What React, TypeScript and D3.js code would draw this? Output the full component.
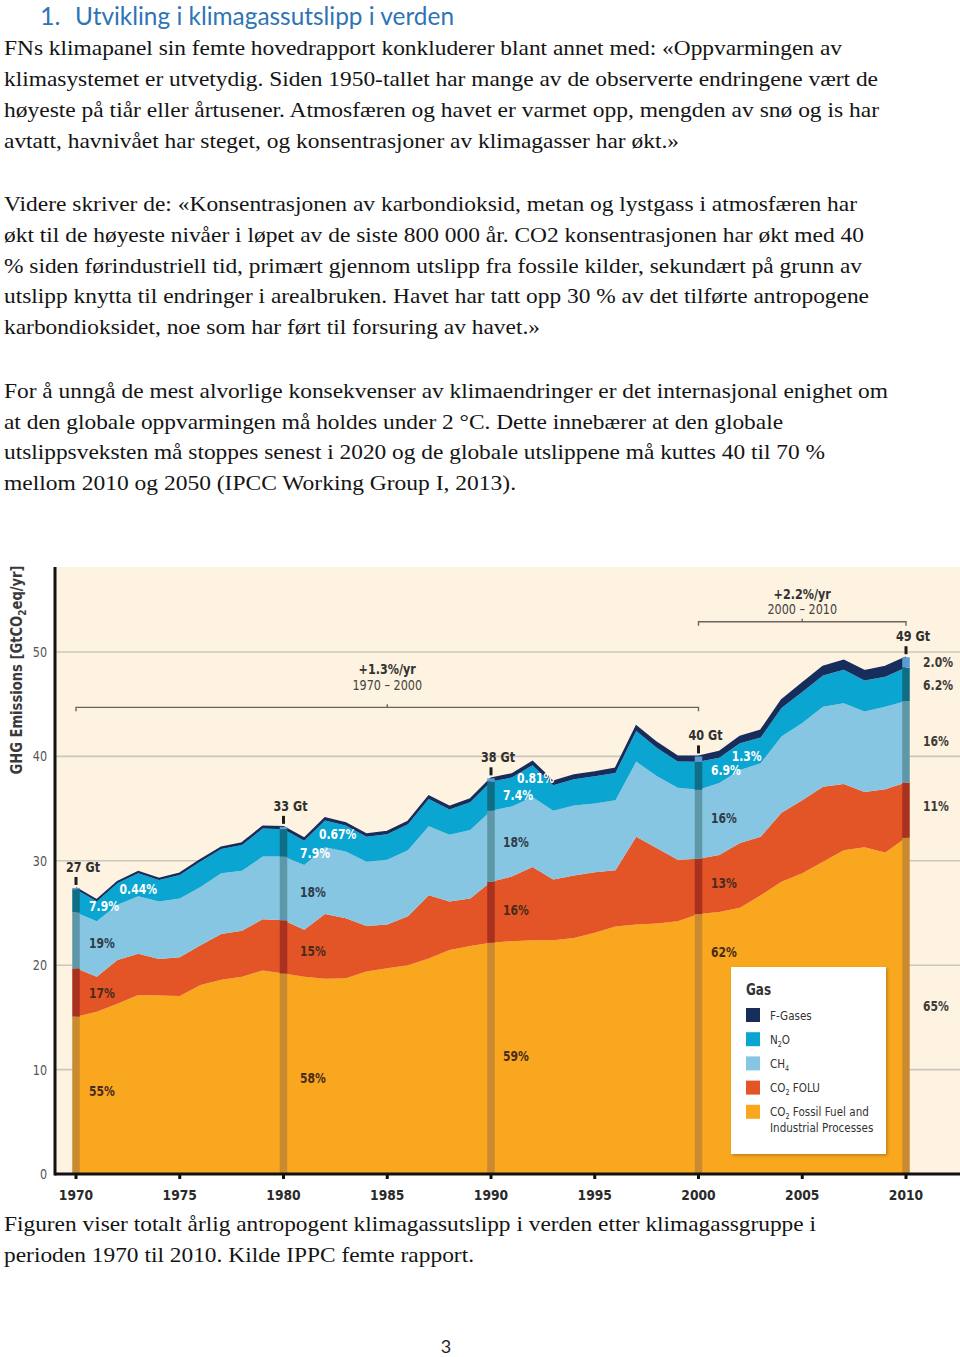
import React from "react";
import * as d3 from "d3";

// ---------------- DATA ----------------
const years = [
  1970, 1971, 1972, 1973, 1974, 1975, 1976, 1977, 1978, 1979,
  1980, 1981, 1982, 1983, 1984, 1985, 1986, 1987, 1988, 1989,
  1990, 1991, 1992, 1993, 1994, 1995, 1996, 1997, 1998, 1999,
  2000, 2001, 2002, 2003, 2004, 2005, 2006, 2007, 2008, 2009, 2010,
];
// GtCO2eq/yr per gas
const co2Fossil = [
  15.07, 15.55, 16.3, 17.15, 17.1, 17.05, 18.1, 18.6, 18.9, 19.5,
  19.2, 18.9, 18.7, 18.75, 19.4, 19.7, 20.0, 20.65, 21.45, 21.85,
  22.15, 22.3, 22.4, 22.4, 22.6, 23.1, 23.7, 23.9, 24.0, 24.2,
  24.9, 25.1, 25.5, 26.7, 28.0, 28.8, 29.9, 31.0, 31.3, 30.8, 32.2,
];
const co2Folu = [
  4.63, 3.35, 4.2, 3.95, 3.5, 3.7, 3.8, 4.4, 4.4, 4.9,
  5.1, 4.5, 6.2, 5.75, 4.35, 4.2, 4.7, 6.05, 4.65, 4.55,
  5.85, 6.2, 7.0, 5.8, 6.0, 5.8, 5.4, 8.4, 7.2, 5.9,
  5.3, 5.45, 6.2, 5.6, 6.6, 7.0, 7.2, 6.35, 5.3, 6.05, 5.3,
];
const ch4 = [
  5.35, 5.3, 5.3, 5.5, 5.5, 5.65, 5.6, 5.8, 5.75, 6.0,
  6.1, 6.2, 6.4, 6.4, 6.15, 6.2, 6.3, 6.6, 6.4, 6.55,
  6.8, 6.7, 6.7, 6.6, 6.7, 6.6, 6.7, 7.2, 6.9, 6.9,
  6.6, 6.9, 7.0, 7.05, 7.3, 7.4, 7.65, 7.75, 7.7, 7.9, 7.8,
];
const n2o = [
  2.23, 1.93, 2.07, 2.21, 2.06, 2.25, 2.44, 2.33, 2.46, 2.69,
  2.63, 2.33, 2.57, 2.47, 2.41, 2.45, 2.49, 2.63, 2.42, 2.65,
  2.79, 2.77, 3.05, 2.44, 2.52, 2.59, 2.61, 2.93, 2.71, 2.5,
  2.68, 2.42, 2.55, 2.45, 2.74, 2.98, 2.99, 3.2, 2.97, 2.89, 3.21,
];
const fGases = [
  0.12, 0.12, 0.13, 0.14, 0.14, 0.15, 0.16, 0.17, 0.19, 0.21,
  0.22, 0.22, 0.23, 0.23, 0.24, 0.25, 0.26, 0.27, 0.28, 0.3,
  0.31, 0.33, 0.35, 0.36, 0.38, 0.41, 0.44, 0.47, 0.49, 0.5,
  0.52, 0.58, 0.65, 0.7, 0.76, 0.82, 0.86, 0.9, 0.93, 0.96, 0.99,
];

const gasKeys = ["fossil", "folu", "ch4", "n2o", "fgas"];
const yTicks = [0, 10, 20, 30, 40, 50];
const xTicks = [1970, 1975, 1980, 1985, 1990, 1995, 2000, 2005, 2010];
const milestoneYears = [1970, 1980, 1990, 2000, 2010];
const milestoneTotals = ["27 Gt", "33 Gt", "38 Gt", "40 Gt", "49 Gt"];
// shares at milestone years, order: F-gases, N2O, CH4, FOLU, Fossil
const shares1970 = ["0.44%", "7.9%", "19%", "17%", "55%"];
const shares1980 = ["0.67%", "7.9%", "18%", "15%", "58%"];
const shares1990 = ["0.81%", "7.4%", "18%", "16%", "59%"];
const shares2000 = ["1.3%", "6.9%", "16%", "13%", "62%"];
const shares2010 = ["2.0%", "6.2%", "16%", "11%", "65%"];
const growthRates = ["+1.3%/yr", "+2.2%/yr"];
const growthPeriods = ["1970 – 2000", "2000 – 2010"];
const growthFrom = [1970, 2000];
const growthTo = [2000, 2010];

// ---------------- STYLE ----------------
const fillColors: Record<string, string> = {
  fossil: "#F8A71F",
  folu: "#E35526",
  ch4: "#87C6E2",
  n2o: "#0BA5D1",
  fgas: "#172D5C",
};
const barColors: Record<string, string> = {
  fossil: "#C98A30",
  folu: "#A8321F",
  ch4: "#5E97A7",
  n2o: "#0F6E85",
  fgas: "#5B9BD5",
};
const CF = "'DejaVu Sans',sans-serif";
const SERIF = "'Liberation Serif','Times New Roman',serif";
const SANS = "Lato,'Open Sans',sans-serif";
const SQ = 0.8; // horizontal squeeze to mimic a condensed face

const para = [
  { t: "FNs klimapanel sin femte hovedrapport konkluderer blant annet med: «Oppvarmingen av", y: 55, w: 838 },
  { t: "klimasystemet er utvetydig. Siden 1950-tallet har mange av de observerte endringene vært de", y: 86, w: 874 },
  { t: "høyeste på tiår eller årtusener. Atmosfæren og havet er varmet opp, mengden av snø og is har", y: 117, w: 875 },
  { t: "avtatt, havnivået har steget, og konsentrasjoner av klimagasser har økt.»", y: 148, w: 675 },
  { t: "Videre skriver de: «Konsentrasjonen av karbondioksid, metan og lystgass i atmosfæren har", y: 211, w: 853 },
  { t: "økt til de høyeste nivåer i løpet av de siste 800 000 år. CO2 konsentrasjonen har økt med 40", y: 242, w: 860 },
  { t: "% siden førindustriell tid, primært gjennom utslipp fra fossile kilder, sekundært på grunn av", y: 273, w: 858 },
  { t: "utslipp knytta til endringer i arealbruken. Havet har tatt opp 30 % av det tilførte antropogene", y: 303, w: 865 },
  { t: "karbondioksidet, noe som har ført til forsuring av havet.»", y: 334, w: 536 },
  { t: "For å unngå de mest alvorlige konsekvenser av klimaendringer er det internasjonal enighet om", y: 398, w: 884 },
  { t: "at den globale oppvarmingen må holdes under 2 °C. Dette innebærer at den globale", y: 429, w: 779 },
  { t: "utslippsveksten må stoppes senest i 2020 og de globale utslippene må kuttes 40 til 70 %", y: 459, w: 821 },
  { t: "mellom 2010 og 2050 (IPCC Working Group I, 2013).", y: 490, w: 512 },
  { t: "Figuren viser totalt årlig antropogent klimagassutslipp i verden etter klimagassgruppe i", y: 1231, w: 812 },
  { t: "perioden 1970 til 2010. Kilde IPPC femte rapport.", y: 1262, w: 470 },
];

function CT(props: any) {
  const { x, y, sq = SQ, children, ...rest } = props;
  return (
    <text transform={`translate(${x},${y}) scale(${sq},1)`} fontFamily={CF} {...rest}>
      {children}
    </text>
  );
}

export default function App() {
  const table = years.map((yr, i) => ({
    year: yr,
    fossil: co2Fossil[i],
    folu: co2Folu[i],
    ch4: ch4[i],
    n2o: n2o[i],
    fgas: fGases[i],
  }));
  const stack = d3.stack<any>().keys(gasKeys)(table);
  const x = d3.scaleLinear().domain([1970, 2010]).range([76, 906]);
  const y = d3.scaleLinear().domain([0, 50]).range([1174, 652]);
  const area = d3
    .area<any>()
    .x((d) => x(d.data.year))
    .y0((d) => y(d[0]))
    .y1((d) => y(d[1]));
  const totals = table.map((r) => ({ year: r.year, v: r.fossil + r.folu + r.ch4 + r.n2o + r.fgas }));
  const topLine = d3
    .line<any>()
    .x((d) => x(d.year))
    .y((d) => y(d.v));

  const plotLeft = 55;
  const plotRight = 960;
  const plotTop = 567;

  const sharesAll = [shares1970, shares1980, shares1990, shares2000, shares2010];
  // label anchor positions in data space (year, Gt) per milestone, order F, N2O, CH4, FOLU, Fossil
  const labelAnchors = [
    [[1972.1, 27.2], [1970.63, 25.6], [1970.63, 22.1], [1970.63, 17.3], [1970.63, 7.85]],
    [[1981.71, 32.5], [1980.8, 30.65], [1980.8, 27.0], [1980.8, 21.3], [1980.8, 9.1]],
    [[1991.25, 37.9], [1990.58, 36.2], [1990.58, 31.7], [1990.58, 25.2], [1990.58, 11.2]],
    [[2001.6, 40.0], [2000.6, 38.6], [2000.6, 34.0], [2000.6, 27.8], [2000.6, 21.2]],
    [[2010.82, 49.0], [2010.82, 46.8], [2010.82, 41.4], [2010.82, 35.15], [2010.82, 16.0]],
  ];
  const labelColor = (mi: number, li: number) => {
    if (mi === 4) return "#3d3a38";
    if (li <= 1) return "#ffffff";
    if (li === 2) return "#2e3b48";
    return "#4a2b1b";
  };
  const bracketLine = [44.7, 52.9];
  const bracketRate = [48.4, 55.6];
  const bracketPeriod = [46.85, 54.15];

  const legendItems = [
    { key: "fgas", parts: [["F-Gases", false]] },
    { key: "n2o", parts: [["N", false], ["2", true], ["O", false]] },
    { key: "ch4", parts: [["CH", false], ["4", true]] },
    { key: "folu", parts: [["CO", false], ["2", true], [" FOLU", false]] },
    { key: "fossil", parts: [["CO", false], ["2", true], [" Fossil Fuel and", false]] },
  ];

  return (
    <svg
      width={960}
      height={1357}
      style={{ position: "absolute", left: 0, top: 0, background: "#fff" }}
    >
      <defs>
        <filter id="shadow" x="-10%" y="-10%" width="130%" height="130%">
          <feDropShadow dx="1.5" dy="1.5" stdDeviation="1.5" floodColor="#000" floodOpacity="0.25" />
        </filter>
      </defs>
      {/* page text */}
      <text x={40} y={25} fontFamily={SANS} fontSize={25} fill="#2E74B5">1.</text>
      <text x={75} y={25} fontFamily={SANS} fontSize={25} fill="#2E74B5" textLength={379} lengthAdjust="spacingAndGlyphs">
        Utvikling i klimagassutslipp i verden
      </text>
      {para.map((p, i) => (
        <text key={i} x={4} y={p.y} fontFamily={SERIF} fontSize={22} fill="#141414" textLength={p.w} lengthAdjust="spacingAndGlyphs">
          {p.t}
        </text>
      ))}
      <text x={446} y={1353} fontFamily={SANS} fontSize={18} fill="#222" textAnchor="middle">3</text>

      {/* chart background */}
      <rect x={plotLeft} y={plotTop} width={plotRight - plotLeft} height={y(0) - plotTop} fill="#FDF3E0" />
      {yTicks.filter((t) => t > 0).map((t) => (
        <line key={t} x1={plotLeft} x2={plotRight} y1={y(t)} y2={y(t)} stroke="#CCC6BB" strokeWidth={1.6} />
      ))}

      {/* stacked areas */}
      {stack.map((s: any) => (
        <path key={s.key} d={area(s) || ""} fill={fillColors[s.key]} />
      ))}
      <path d={topLine(totals) || ""} fill="none" stroke="#172D5C" strokeWidth={1.8} />

      {/* milestone bars */}
      {milestoneYears.map((yr) => {
        const idx = years.indexOf(yr);
        return (
          <g key={yr}>
            {stack.map((s: any) => (
              <rect
                key={s.key}
                x={x(yr) - 3.75}
                width={7.5}
                y={y(s[idx][1])}
                height={y(s[idx][0]) - y(s[idx][1])}
                fill={barColors[s.key]}
              />
            ))}
          </g>
        );
      })}

      {/* milestone totals */}
      {milestoneYears.map((yr, i) => {
        const t = totals[years.indexOf(yr)].v;
        return (
          <g key={"t" + yr}>
            <line x1={x(yr)} x2={x(yr)} y1={y(t) - 3} y2={y(t) - 11} stroke="#1e1e1e" strokeWidth={3} />
            <CT x={x(yr) + 7} y={y(t) - 16} textAnchor="middle" fontWeight="bold" fontSize={14} fill="#2f2f2f">
              {milestoneTotals[i]}
            </CT>
          </g>
        );
      })}

      {/* share labels */}
      {sharesAll.map((arr, mi) =>
        arr.map((txt, li) => (
          <CT
            key={mi + "-" + li}
            x={x(labelAnchors[mi][li][0])}
            y={y(labelAnchors[mi][li][1])}
            dominantBaseline="central"
            fontWeight="bold"
            fontSize={13.5}
            fill={labelColor(mi, li)}
          >
            {txt}
          </CT>
        ))
      )}

      {/* growth brackets */}
      {growthRates.map((r, i) => {
        const x1 = x(growthFrom[i]);
        const x2 = x(growthTo[i]);
        const xm = (x1 + x2) / 2;
        const yl = y(bracketLine[i]);
        return (
          <g key={"b" + i}>
            <path
              d={`M${x1},${yl + 4}V${yl}H${x2}V${yl + 4}M${xm},${yl}V${yl - 3}`}
              fill="none"
              stroke="#6d655d"
              strokeWidth={1.4}
            />
            <CT x={xm} y={y(bracketRate[i])} dominantBaseline="central" textAnchor="middle" fontWeight="bold" fontSize={14} fill="#333">
              {r}
            </CT>
            <CT x={xm} y={y(bracketPeriod[i])} dominantBaseline="central" textAnchor="middle" fontSize={14} fill="#444">
              {growthPeriods[i]}
            </CT>
          </g>
        );
      })}

      {/* axes */}
      <line x1={plotLeft} x2={plotLeft} y1={plotTop} y2={y(0) + 1.5} stroke="#111" strokeWidth={3} />
      <line x1={plotLeft} x2={plotRight} y1={y(0)} y2={y(0)} stroke="#111" strokeWidth={3} />
      {xTicks.map((t) => (
        <g key={"x" + t}>
          <line x1={x(t)} x2={x(t)} y1={y(0)} y2={y(0) + 5} stroke="#111" strokeWidth={3} />
          <CT x={x(t)} y={1195} sq={0.85} dominantBaseline="central" textAnchor="middle" fontWeight="bold" fontSize={14.5} fill="#2a2a2a">
            {t}
          </CT>
        </g>
      ))}
      {yTicks.map((t) => (
        <CT key={"y" + t} x={47} y={y(t)} dominantBaseline="central" textAnchor="end" fontSize={14} fill="#555">
          {t}
        </CT>
      ))}
      <text
        transform="translate(22,670) rotate(-90) scale(0.82,1)"
        textAnchor="middle"
        fontFamily={CF}
        fontWeight="bold"
        fontSize={16}
        fill="#3a3a3a"
      >
        GHG Emissions [GtCO<tspan fontSize={11} dy={4}>2</tspan>
        <tspan dy={-4}>eq/yr]</tspan>
      </text>

      {/* legend */}
      <g>
        <rect x={731} y={967} width={155} height={187} fill="#fff" filter="url(#shadow)" />
        <CT x={746} y={989} dominantBaseline="central" fontWeight="bold" fontSize={15} fill="#333">
          Gas
        </CT>
        {legendItems.map((it, i) => {
          const cy = 1015 + i * 24.2;
          return (
            <g key={it.key}>
              <rect x={746} y={cy - 7} width={14} height={14} fill={fillColors[it.key]} />
              <CT x={770} y={cy + 4.5} fontSize={13} fill="#333">
                {it.parts.map((p, j) =>
                  p[1] ? (
                    <tspan key={j} fontSize={8} dy={3}>{p[0] as string}</tspan>
                  ) : (
                    <tspan key={j} dy={j > 0 && it.parts[j - 1][1] ? -3 : 0}>{p[0] as string}</tspan>
                  )
                )}
              </CT>
            </g>
          );
        })}
        <CT x={770} y={1132} fontSize={13} fill="#333">
          Industrial Processes
        </CT>
      </g>
    </svg>
  );
}
